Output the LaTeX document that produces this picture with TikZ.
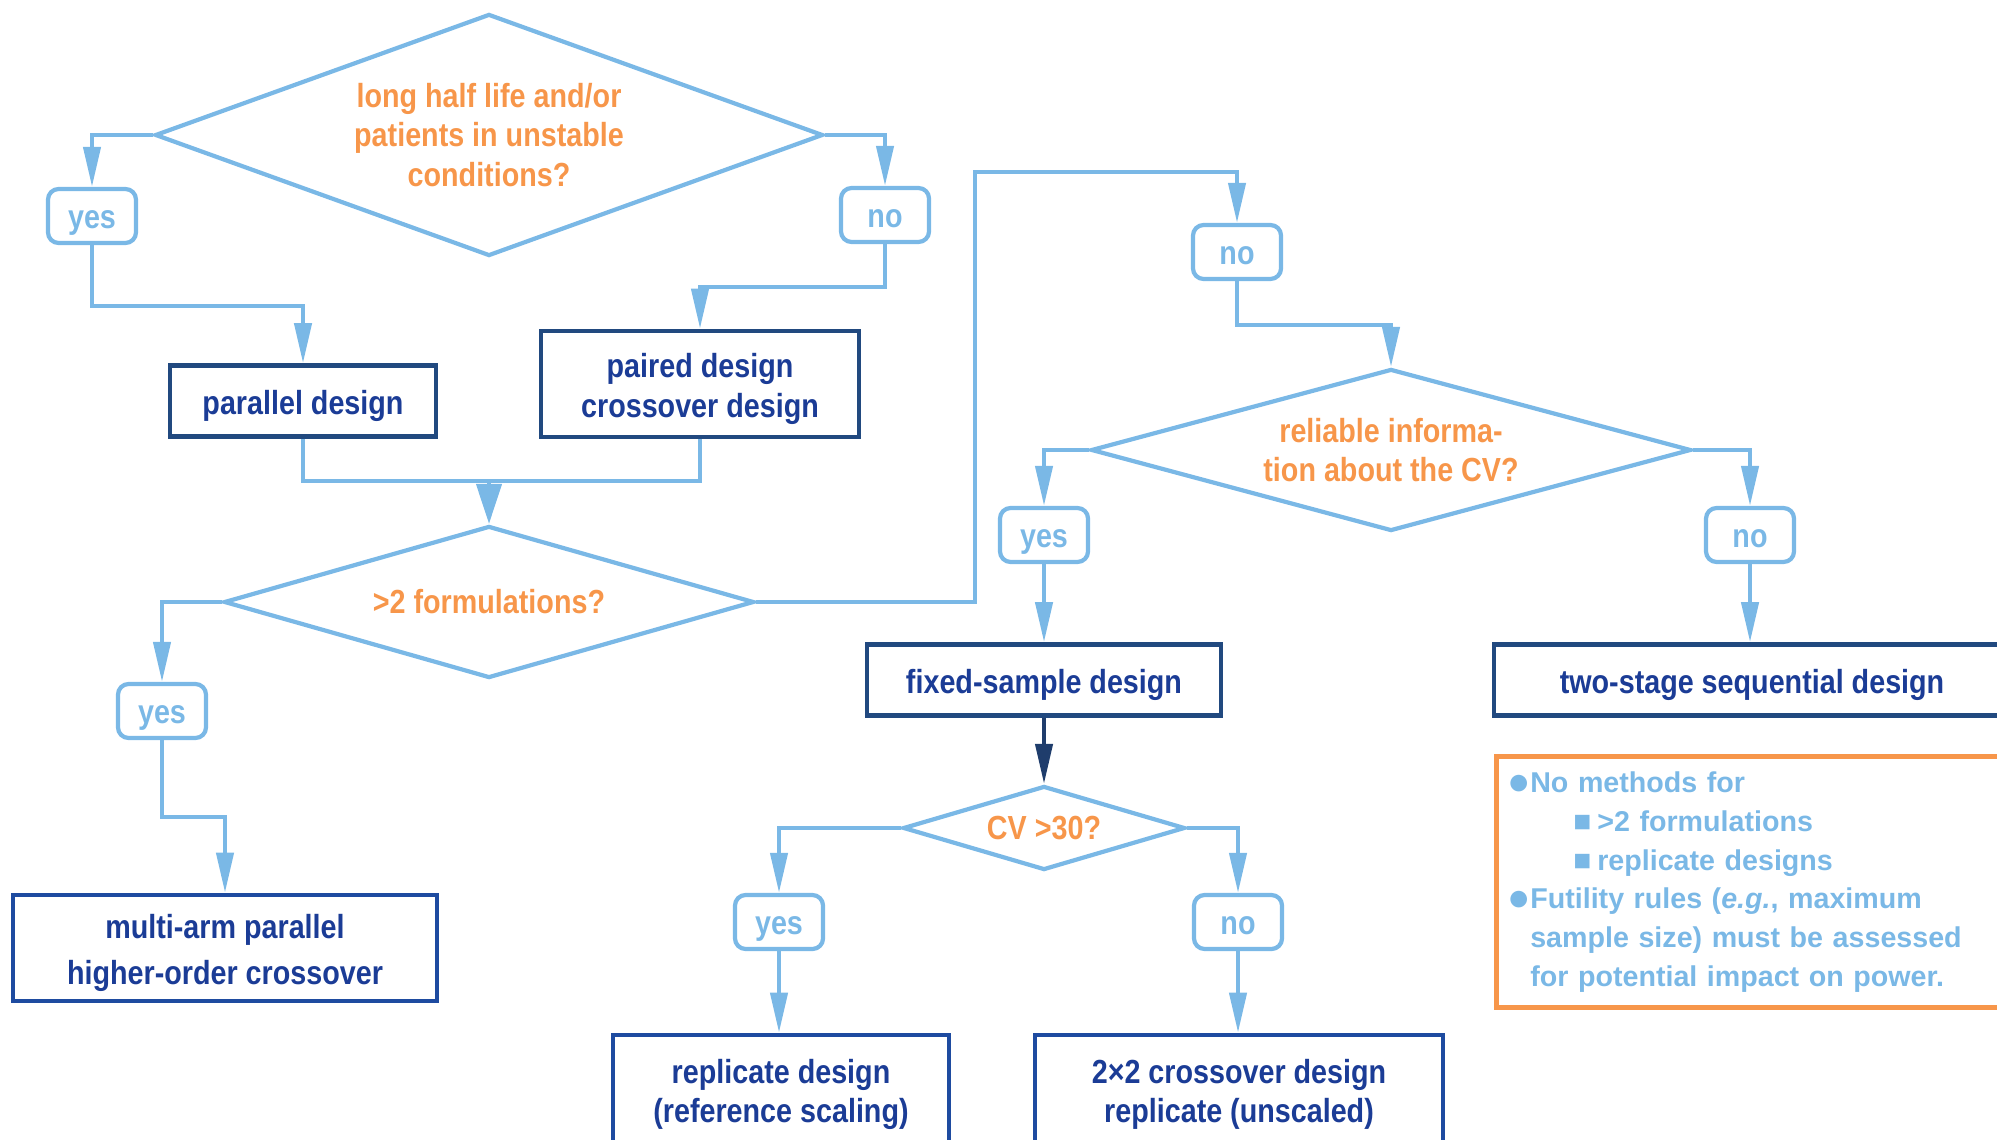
\documentclass[tikz,border=0pt]{standalone}
\usepackage{fontspec}
\setmainfont{Liberation Sans}
\newfontfamily\narrowsf{Liberation Sans}[FakeStretch=0.86]
\usetikzlibrary{arrows.meta,shapes.geometric,positioning}
\definecolor{FlowBlue}{HTML}{7AB8E6}
\definecolor{QOrange}{HTML}{F7964A}
\definecolor{BoxNavy}{HTML}{21497F}
\definecolor{BoxRoyal}{HTML}{1E4BA0}
\definecolor{DsgText}{HTML}{1B3C96}
\definecolor{DarkArrow}{HTML}{1F3D6C}
\newcommand{\qfont}{\narrowsf\bfseries\fontsize{9.5}{11.2}\selectfont}
\newcommand{\firstline}[1][9.7pt]{\rule{0pt}{#1}}
\newcommand{\dotitem}{\makebox[0.18cm][c]{\raisebox{-0.6pt}{\fontsize{11}{11}\selectfont ●}}}
\newcommand{\sqitem}{\hspace*{0.42cm}\makebox[0.2cm][c]{\fontsize{8.5}{8.5}\selectfont ■}\hspace{0.05cm}}

\begin{document}
\begin{tikzpicture}[x=0.1mm, y=-0.1mm,
  dsg/.style={draw=BoxNavy, line width=1.3pt, fill=white, text=DsgText,
              font=\qfont, align=center, inner sep=0pt},
  one/.style={text height=9.8pt, text depth=2pt},
  ans/.style={draw=FlowBlue, line width=1.2pt, rounded corners=3pt, text=FlowBlue,
              font=\qfont, minimum width=0.88cm, minimum height=0.54cm, inner sep=0pt,
              text height=9pt, text depth=2pt},
  qst/.style={diamond, draw=FlowBlue, line width=1.2pt, text=QOrange,
              font=\qfont, align=center, inner sep=0pt},
  link/.style={draw=FlowBlue, line width=1.2pt},
  flow/.style={link, -{Triangle[length=4mm,width=1.7mm]}}]
  \useasboundingbox (0,0) rectangle (1997,1140);
  \clip (0,0) rectangle (1997,1140);
  % questions
  \node[qst, minimum width=6.68cm, minimum height=2.42cm, aspect=2.76] (halflife) at (489,135)
    {long half life and/or\\patients in unstable\\conditions?};
  \node[qst, minimum width=5.3cm, minimum height=1.52cm, aspect=3.49] (formul) at (489,602)
    {>2 formulations?};
  \node[qst, minimum width=6cm, minimum height=1.62cm, aspect=3.7] (cvinfo) at (1391,450)
    {reliable informa-\\tion about the CV?};
  \node[qst, minimum width=2.82cm, minimum height=0.84cm, aspect=3.36] (cv30) at (1044,828)
    {CV >30?};
  % answers
  \node[ans] (yes1) at (92,216) {yes};
  \node[ans] (no1) at (885,215) {no};
  \node[ans] (yes2) at (162,711) {yes};
  \node[ans] (no2) at (1237,252) {no};
  \node[ans] (yes3) at (1044,535) {yes};
  \node[ans] (no3) at (1750,535) {no};
  \node[ans] (yes4) at (779,922) {yes};
  \node[ans] (no4) at (1238,922) {no};
  % designs
  \node[dsg, one, minimum width=2.66cm, minimum height=0.71cm] (parallel) at (303,401) {parallel design};
  \node[dsg, minimum width=3.18cm, minimum height=1.06cm] (paired) at (700,384)
    {\firstline paired design\\crossover design};
  \node[dsg, draw=BoxRoyal, minimum width=4.24cm, minimum height=1.06cm] (multi) at (225,948)
    {\firstline multi-arm parallel\\[2pt]higher-order crossover};
  \node[dsg, one, minimum width=3.54cm, minimum height=0.71cm] (fixed) at (1044,680) {fixed-sample design};
  \node[dsg, one, minimum width=5.16cm, minimum height=0.71cm] (twostage) at (1752,680)
    {two-stage sequential design};
  \node[dsg, draw=BoxRoyal, minimum width=3.36cm, minimum height=1.14cm] (refscale) at (781,1092)
    {\firstline[8.1pt]replicate design\\(reference scaling)};
  \node[dsg, draw=BoxRoyal, minimum width=4.08cm, minimum height=1.14cm] (twobytwo) at (1239,1092)
    {\firstline[8.1pt]2×2 crossover design\\replicate (unscaled)};
  % note
  \node[draw=QOrange, line width=1.3pt, anchor=north west, inner xsep=0.14cm, inner ysep=0pt,
        text width=4.88cm, minimum height=2.51cm, text=FlowBlue, align=left,
        font=\bfseries\fontsize{8.15}{11}\selectfont] (note) at (1494,754)
    {\begin{tabular}{@{}l@{\hspace{0.02cm}}l@{}}
     \dotitem & No methods for\\
     & \sqitem >2 formulations\\
     & \sqitem replicate designs\\
     \dotitem & Futility rules (\textit{e.g.}, maximum\\
     & sample size) must be assessed\\
     & for potential impact on power.
     \end{tabular}};
  % connectors
  \draw[flow] (halflife.west) -| (yes1.north);
  \draw[flow] (halflife.east) -| (no1.north);
  \draw[flow] (yes1.south) -- ++(0,61) -| (parallel.north);
  \draw[flow] (no1.south) -- ++(0,43) -| (paired.north);
  \coordinate (merge) at (489,481);
  \draw[link] (parallel.south) |- (merge) -| (paired.south);
  \draw[link, -{Triangle[length=4mm,width=2.5mm]}] (merge) -- (formul.north);
  \draw[flow] (formul.west) -| (yes2.north);
  \draw[flow] (yes2.south) -- ++(0,77) -| (multi.north);
  \draw[flow] (formul.east) -- ++(219,0) -- ++(0,-430) -| (no2.north);
  \draw[flow] (no2.south) -- ++(0,44) -| (cvinfo.north);
  \draw[flow] (cvinfo.west) -| (yes3.north);
  \draw[flow] (cvinfo.east) -| (no3.north);
  \draw[flow] (yes3) -- (fixed);
  \draw[flow] (no3.south) -- (no3.south |- twostage.north);
  \draw[DarkArrow, line width=1.2pt, -{Triangle[length=4mm,width=1.7mm]}] (fixed) -- (cv30);
  \draw[flow] (cv30.west) -| (yes4.north);
  \draw[flow] (cv30.east) -| (no4.north);
  \draw[flow] (yes4.south) -- (yes4.south |- refscale.north);
  \draw[flow] (no4.south) -- (no4.south |- twobytwo.north);
\end{tikzpicture}
\end{document}
